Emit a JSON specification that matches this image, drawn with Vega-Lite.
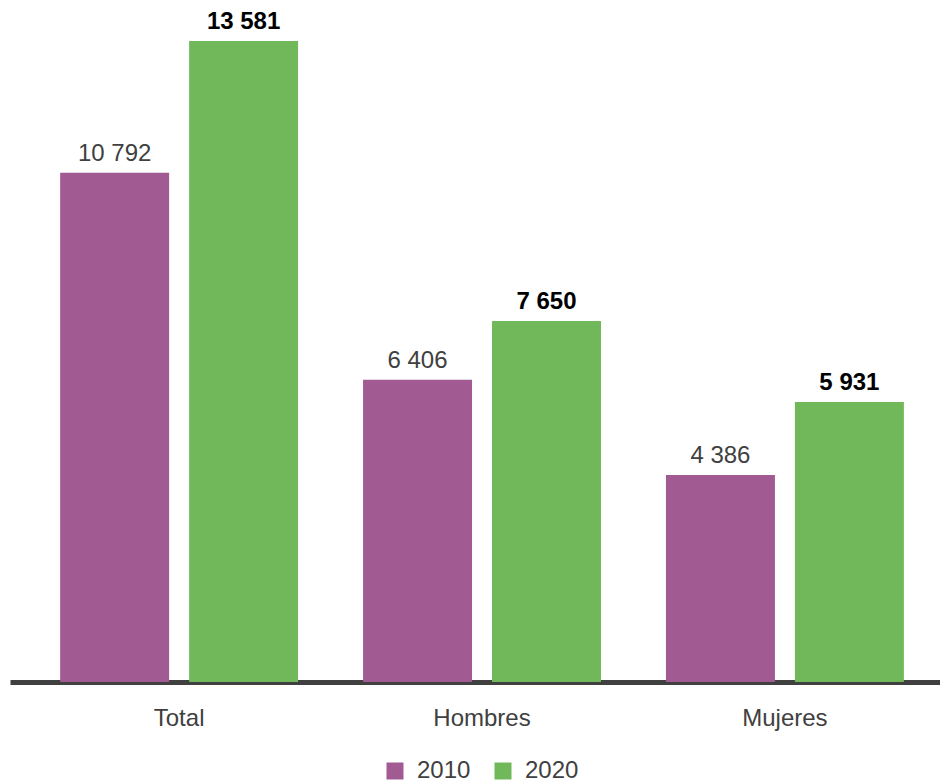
{
  "$schema": "https://vega.github.io/schema/vega-lite/v6.json",
  "autosize": {"type": "none"},
  "width": 930,
  "height": 682,
  "padding": {"left": 10, "top": 0, "right": 0, "bottom": 101},
  "background": "white",
  "config": {
    "view": {"stroke": null},
    "font": "Liberation Sans",
    "locale": {"number": {"decimal": ",", "thousands": " ", "grouping": [3], "currency": ["", ""]}}
  },
  "data": {
    "values": [
      {"grupo": "Total", "anio": "2010", "valor": 10792},
      {"grupo": "Total", "anio": "2020", "valor": 13581},
      {"grupo": "Hombres", "anio": "2010", "valor": 6406},
      {"grupo": "Hombres", "anio": "2020", "valor": 7650},
      {"grupo": "Mujeres", "anio": "2010", "valor": 4386},
      {"grupo": "Mujeres", "anio": "2020", "valor": 5931}
    ]
  },
  "encoding": {
    "x": {
      "field": "grupo", "type": "nominal", "sort": null, "title": null,
      "scale": {"paddingInner": 0.2145, "paddingOuter": 0.1424, "align": 0.5814},
      "axis": {
        "labelAngle": 0, "labelFontSize": 24, "labelColor": "#404040", "labelFont": "Liberation Sans",
        "ticks": false, "labelPadding": 24, "domainColor": "#404040", "domainWidth": 5, "grid": false
      }
    },
    "xOffset": {"field": "anio", "type": "nominal", "scale": {"paddingInner": 0.155, "paddingOuter": 0}},
    "y": {"field": "valor", "type": "quantitative", "scale": {"domain": [0, 14450], "nice": false}, "axis": null}
  },
  "layer": [
    {
      "mark": {"type": "bar"},
      "encoding": {
        "color": {
          "field": "anio", "type": "nominal", "title": null,
          "scale": {"domain": ["2010", "2020"], "range": ["#A25A92", "#70B85A"]},
          "legend": {
            "orient": "none", "direction": "horizontal", "legendX": 373, "legendY": 759,
            "symbolType": "square", "symbolSize": 289, "symbolStrokeWidth": 0, "symbolOpacity": 1,
            "labelFontSize": 24, "labelColor": "#404040", "labelFont": "Liberation Sans",
            "columnPadding": 20, "labelOffset": 10, "padding": 0
          }
        }
      }
    },
    {
      "transform": [{"filter": "datum.anio == '2010'"}],
      "mark": {"type": "text", "dy": -12, "baseline": "alphabetic", "fontSize": 24, "color": "#404040", "font": "Liberation Sans"},
      "encoding": {"text": {"field": "valor", "type": "quantitative", "format": ",d"}}
    },
    {
      "transform": [{"filter": "datum.anio == '2020'"}],
      "mark": {"type": "text", "dy": -12, "baseline": "alphabetic", "fontSize": 24, "fontWeight": "bold", "color": "#000000", "font": "Liberation Sans"},
      "encoding": {"text": {"field": "valor", "type": "quantitative", "format": ",d"}}
    }
  ]
}
